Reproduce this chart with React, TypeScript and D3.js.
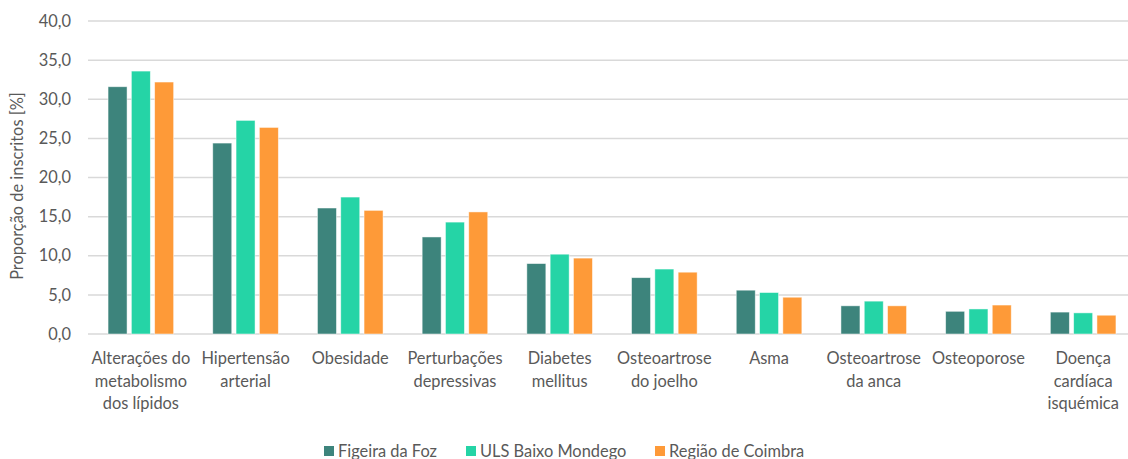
import * as d3 from "d3";

const CATEGORIES = [
  "Alterações do\nmetabolismo\ndos lípidos",
  "Hipertensão\narterial",
  "Obesidade",
  "Perturbações\ndepressivas",
  "Diabetes\nmellitus",
  "Osteoartrose\ndo joelho",
  "Asma",
  "Osteoartrose\nda anca",
  "Osteoporose",
  "Doença\ncardíaca\nisquémica",
];
const SERIES = ["Figeira da Foz", "ULS Baixo Mondego", "Região de Coimbra"];
const FIGUEIRA = [31.6, 24.4, 16.1, 12.4, 9.0, 7.2, 5.6, 3.6, 2.9, 2.8];
const ULS = [33.6, 27.3, 17.5, 14.3, 10.2, 8.3, 5.3, 4.2, 3.2, 2.7];
const REGIAO = [32.2, 26.4, 15.8, 15.6, 9.7, 7.9, 4.7, 3.6, 3.7, 2.4];
const Y_TICKS = [0, 5, 10, 15, 20, 25, 30, 35, 40];

const COLORS = ["#3d847c", "#25d4a6", "#fe9a38"];
const W = 1128;
const H = 459;
const FONT = "Lato, 'Open Sans', sans-serif";
const TEXT = "#595959";
const FS = 16.4;

const App = () => {
  const values = [FIGUEIRA, ULS, REGIAO];
  const x = d3
    .scaleBand<number>()
    .domain(d3.range(CATEGORIES.length))
    .range([88.5, 1135.5]);
  const y = d3.scaleLinear().domain([0, 40]).range([334, 21]);
  const fmt = (v: number) => v.toFixed(1).replace(".", ",");
  const barW = 19;
  const step = 23.3;

  return (
    <svg
      width={W}
      height={H}
      style={{ display: "block", position: "absolute", left: 0, top: 0 }}
      fontFamily={FONT}
    >
      <rect width={W} height={H} fill="#fff" />
      {Y_TICKS.map((t) => (
        <g key={t}>
          <line
            x1={88}
            x2={W}
            y1={y(t)}
            y2={y(t)}
            stroke="#d9d9d9"
            strokeWidth={1.5}
          />
          <text
            x={71}
            y={y(t)}
            dy="0.35em"
            textAnchor="end"
            fontSize={FS}
            fill={TEXT}
          >
            {fmt(t)}
          </text>
        </g>
      ))}
      <text
        transform={`translate(23,186) rotate(-90)`}
        textAnchor="middle"
        fontSize={FS}
        fill={TEXT}
      >
        Proporção de inscritos [%]
      </text>
      {CATEGORIES.map((c, i) => {
        const cx = (x(i) ?? 0) + x.bandwidth() / 2;
        return (
          <g key={c}>
            {values.map((s, j) => (
              <rect
                key={j}
                x={cx + (j - 1) * step - barW / 2}
                y={y(s[i])}
                width={barW}
                height={y(0) - y(s[i])}
                fill={COLORS[j]}
                stroke="rgba(255,255,255,0.6)"
                strokeWidth={0.8}
              />
            ))}
            {c.split("\n").map((line, k) => (
              <text
                key={k}
                x={cx}
                y={364 + k * 22.5}
                textAnchor="middle"
                fontSize={FS}
                fill={TEXT}
              >
                {line}
              </text>
            ))}
          </g>
        );
      })}
      {SERIES.map((s, j) => {
        const lx = [324, 466, 655][j];
        return (
          <g key={s}>
            <rect x={lx} y={446} width={10} height={10} fill={COLORS[j]} />
            <text x={lx + 14} y={456.5} fontSize={FS} fill={TEXT}>
              {s}
            </text>
          </g>
        );
      })}
    </svg>
  );
};

export default App;
